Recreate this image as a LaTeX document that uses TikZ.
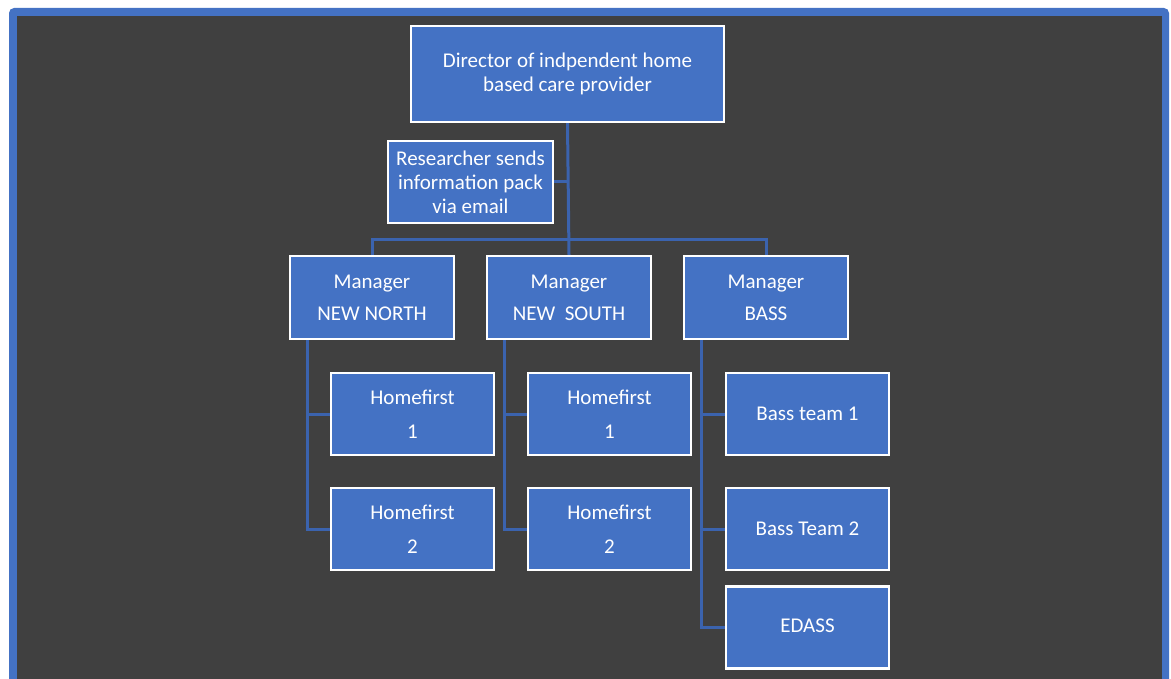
\documentclass[tikz,border=0pt]{standalone}
\usepackage{fontspec}
\setmainfont{Carlito}
\definecolor{panelblue}{HTML}{4472C4}
\definecolor{panelgray}{HTML}{404040}
\definecolor{linkblue}{RGB}{59,99,174}
\begin{document}
\begin{tikzpicture}[x=1pt,y=-1pt,
  box/.style={draw=white, line width=2.2pt, fill=panelblue, text=white,
    inner sep=0pt, align=center, font=\fontsize{21}{24}\selectfont},
  unit/.style={box, minimum width=164, minimum height=83},
  leaf/.style={box, minimum width=163, minimum height=82},
  conn/.style={draw=linkblue, line width=3pt}]
  % page and frame
  \useasboundingbox (0,0) rectangle (1171,679);
  \fill[white] (0,0) rectangle (1171,679);
  \begin{scope}
    \clip (0,0) rectangle (1171,679);
    \fill[panelblue, rounded corners=5pt] (9,8) rectangle (1169,700);
    \fill[panelgray] (17,16) rectangle (1162,700);
  \end{scope}

  % boxes
  \node[box, minimum width=313, minimum height=96] (dir) at (567.5,74)
    {Director of indpendent home\\based care provider};
  \node[box, minimum width=165, minimum height=82] (res) at (470.5,182)
    {Researcher sends\\information pack\\via email};

  \node[unit] (nn) at (372,297.5) {Manager\\[8pt]NEW NORTH};
  \node[unit] (ns) at (569,297.5) {Manager\\[8pt]NEW\ \ SOUTH};
  \node[unit] (bs) at (766,297.5) {Manager\\[8pt]BASS};

  \node[leaf] (nn1) at (412.5,414) {Homefirst\\[10pt]1};
  \node[leaf] (nn2) at (412.5,529) {Homefirst\\[10pt]2};
  \node[leaf] (ns1) at (609.5,414) {Homefirst\\[10pt]1};
  \node[leaf] (ns2) at (609.5,529) {Homefirst\\[10pt]2};
  \node[leaf] (bs1) at (807.5,414) {Bass team 1};
  \node[leaf] (bs2) at (807.5,529) {Bass Team 2};
  \node[leaf] (bs3) at (807.5,627.5) {\raisebox{3pt}{EDASS}};

  % connectors
  \coordinate (bus) at (568,240);
  \draw[conn] (dir.south) -- (ns.north);
  \draw[conn] (res.east) -- (res.east -| dir.south);
  \draw[conn] (nn.north) |- (bus) -| (bs.north);
  \draw[conn] ([xshift=-65pt]nn.south) |- (nn1.west);
  \draw[conn] ([xshift=-65pt]nn.south) |- (nn2.west);
  \draw[conn] ([xshift=-65pt]ns.south) |- (ns1.west);
  \draw[conn] ([xshift=-65pt]ns.south) |- (ns2.west);
  \draw[conn] ([xshift=-65pt]bs.south) |- (bs1.west);
  \draw[conn] ([xshift=-65pt]bs.south) |- (bs2.west);
  \draw[conn] ([xshift=-65pt]bs.south) |- (bs3.west);
\end{tikzpicture}
\end{document}
